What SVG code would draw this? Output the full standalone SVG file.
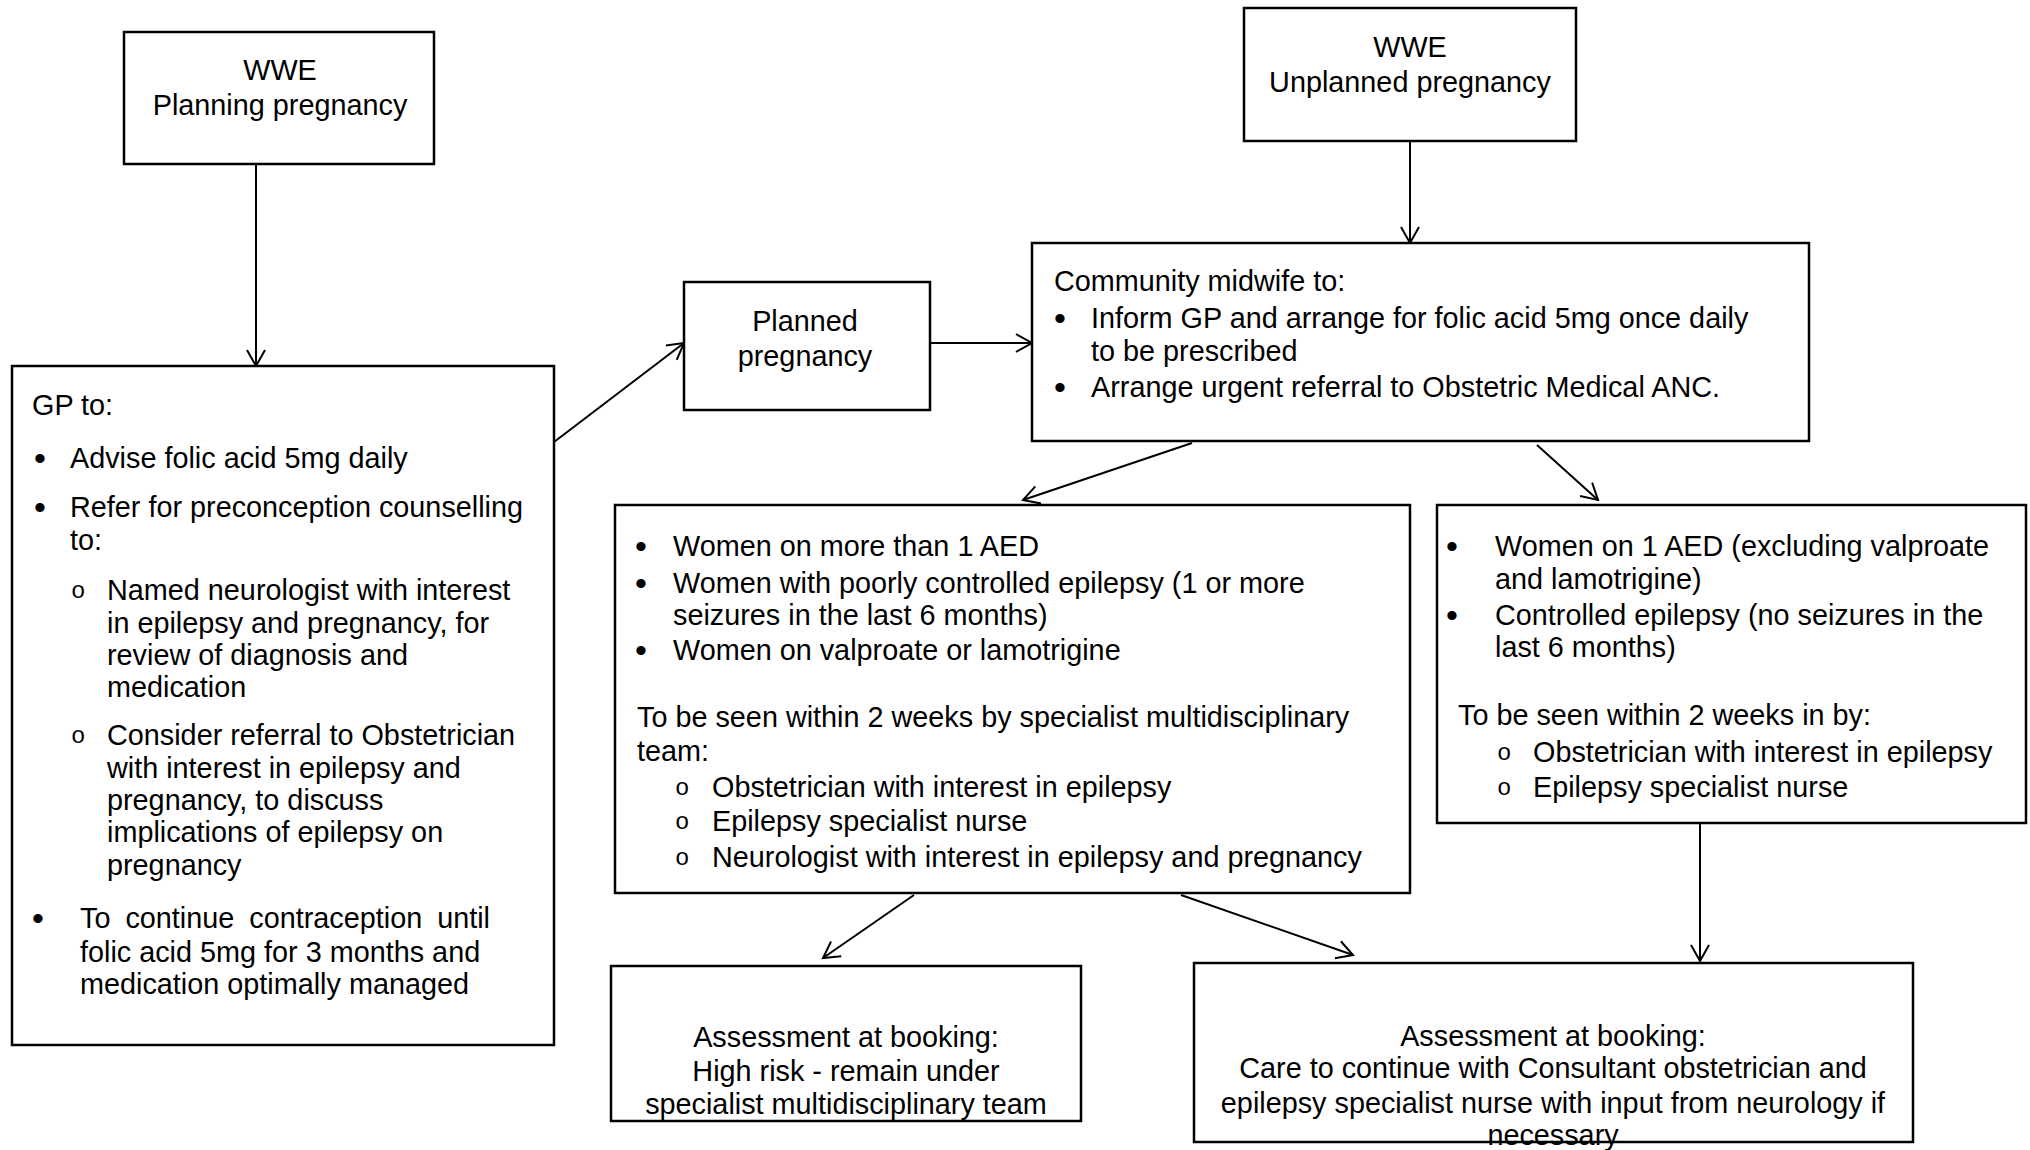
<svg xmlns="http://www.w3.org/2000/svg" width="2030" height="1150" viewBox="0 0 2030 1150">
<style>
.box{fill:#fff;stroke:#000;stroke-width:2.5}
.t{font-family:"Liberation Sans",Arial,sans-serif;font-size:28.8px;fill:#000}
.b{font-family:"Liberation Sans",Arial,sans-serif;font-size:34px;fill:#000}
.c{text-anchor:middle}
.o{font-family:"Liberation Mono","Courier New",monospace;font-size:24px;fill:#000}
.ln{fill:none;stroke:#000;stroke-width:2;marker-end:url(#arr)}
</style>
<defs>
<marker id="arr" markerWidth="22" markerHeight="22" refX="17" refY="10" orient="auto" markerUnits="userSpaceOnUse">
<path d="M1,1 L17,10 L1,19" fill="none" stroke="#000" stroke-width="2"/>
</marker>
</defs>
<rect width="2030" height="1150" fill="#fff"/>

<g id="connectors">
<line class="ln" x1="256" y1="165" x2="256" y2="366"/>
<line class="ln" x1="1410" y1="142" x2="1410" y2="243"/>
<line class="ln" x1="554" y1="442" x2="684" y2="343"/>
<line class="ln" x1="931" y1="343" x2="1032" y2="343"/>
<line class="ln" x1="1192" y1="443" x2="1023" y2="500"/>
<line class="ln" x1="1537" y1="445" x2="1598" y2="500"/>
<line class="ln" x1="914" y1="895" x2="823" y2="958"/>
<line class="ln" x1="1181" y1="895" x2="1353" y2="955"/>
<line class="ln" x1="1700" y1="824" x2="1700" y2="961"/>
</g>

<g id="wwe-planning">
<rect class="box" x="124" y="32" width="310" height="132"/>
<text class="t c" x="280" y="80">WWE</text>
<text class="t c" x="280" y="115">Planning pregnancy</text>
</g>

<g id="wwe-unplanned">
<rect class="box" x="1244" y="8" width="332" height="133"/>
<text class="t c" x="1410" y="57">WWE</text>
<text class="t c" x="1410" y="92">Unplanned pregnancy</text>
</g>

<g id="gp">
<rect class="box" x="12" y="366" width="542" height="679"/>
<text class="t" x="32" y="415">GP to:</text>
<text class="b" x="34" y="470">•</text>
<text class="t" x="70" y="468">Advise folic acid 5mg daily</text>
<text class="b" x="34" y="519">•</text>
<text class="t" x="70" y="517">Refer for preconception counselling</text>
<text class="t" x="70" y="550">to:</text>
<text class="o" x="71" y="598">o</text>
<text class="t" x="107" y="600">Named neurologist with interest</text>
<text class="t" x="107" y="633">in epilepsy and pregnancy, for</text>
<text class="t" x="107" y="665">review of diagnosis and</text>
<text class="t" x="107" y="697">medication</text>
<text class="o" x="71" y="743">o</text>
<text class="t" x="107" y="745">Consider referral to Obstetrician</text>
<text class="t" x="107" y="778">with interest in epilepsy and</text>
<text class="t" x="107" y="810">pregnancy, to discuss</text>
<text class="t" x="107" y="842">implications of epilepsy on</text>
<text class="t" x="107" y="875">pregnancy</text>
<text class="b" x="32" y="930">•</text>
<text class="t" x="80" y="928" word-spacing="7">To continue contraception until</text>
<text class="t" x="80" y="962">folic acid 5mg for 3 months and</text>
<text class="t" x="80" y="994">medication optimally managed</text>
</g>

<g id="planned">
<rect class="box" x="684" y="282" width="246" height="128"/>
<text class="t c" x="805" y="331">Planned</text>
<text class="t c" x="805" y="366">pregnancy</text>
</g>

<g id="midwife">
<rect class="box" x="1032" y="243" width="777" height="198"/>
<text class="t" x="1054" y="291">Community midwife to:</text>
<text class="b" x="1054" y="330">•</text>
<text class="t" x="1091" y="328">Inform GP and arrange for folic acid 5mg once daily</text>
<text class="t" x="1091" y="361">to be prescribed</text>
<text class="b" x="1054" y="399">•</text>
<text class="t" x="1091" y="397">Arrange urgent referral to Obstetric Medical ANC.</text>
</g>

<g id="high-risk">
<rect class="box" x="615" y="505" width="795" height="388"/>
<text class="b" x="635" y="558">•</text>
<text class="t" x="673" y="556">Women on more than 1 AED</text>
<text class="b" x="635" y="595">•</text>
<text class="t" x="673" y="593">Women with poorly controlled epilepsy (1 or more</text>
<text class="t" x="673" y="625">seizures in the last 6 months)</text>
<text class="b" x="635" y="662">•</text>
<text class="t" x="673" y="660">Women on valproate or lamotrigine</text>
<text class="t" x="637" y="727">To be seen within 2 weeks by specialist multidisciplinary</text>
<text class="t" x="637" y="761">team:</text>
<text class="o" x="675" y="795">o</text>
<text class="t" x="712" y="797">Obstetrician with interest in epilepsy</text>
<text class="o" x="675" y="829">o</text>
<text class="t" x="712" y="831">Epilepsy specialist nurse</text>
<text class="o" x="675" y="865">o</text>
<text class="t" x="712" y="867">Neurologist with interest in epilepsy and pregnancy</text>
</g>

<g id="low-risk">
<rect class="box" x="1437" y="505" width="589" height="318"/>
<text class="b" x="1446" y="558">•</text>
<text class="t" x="1495" y="556">Women on 1 AED (excluding valproate</text>
<text class="t" x="1495" y="589">and lamotrigine)</text>
<text class="b" x="1446" y="627">•</text>
<text class="t" x="1495" y="625">Controlled epilepsy (no seizures in the</text>
<text class="t" x="1495" y="657">last 6 months)</text>
<text class="t" x="1458" y="725">To be seen within 2 weeks in by:</text>
<text class="o" x="1497" y="760">o</text>
<text class="t" x="1533" y="762">Obstetrician with interest in epilepsy</text>
<text class="o" x="1497" y="795">o</text>
<text class="t" x="1533" y="797">Epilepsy specialist nurse</text>
</g>

<g id="booking-high">
<rect class="box" x="611" y="966" width="470" height="155"/>
<text class="t c" x="846" y="1047">Assessment at booking:</text>
<text class="t c" x="846" y="1081">High risk - remain under</text>
<text class="t c" x="846" y="1114">specialist multidisciplinary team</text>
</g>

<g id="booking-low">
<rect class="box" x="1194" y="963" width="719" height="179"/>
<text class="t c" x="1553" y="1046">Assessment at booking:</text>
<text class="t c" x="1553" y="1078">Care to continue with Consultant obstetrician and</text>
<text class="t c" x="1553" y="1113">epilepsy specialist nurse with input from neurology if</text>
<text class="t c" x="1553" y="1145">necessary</text>
</g>
</svg>
